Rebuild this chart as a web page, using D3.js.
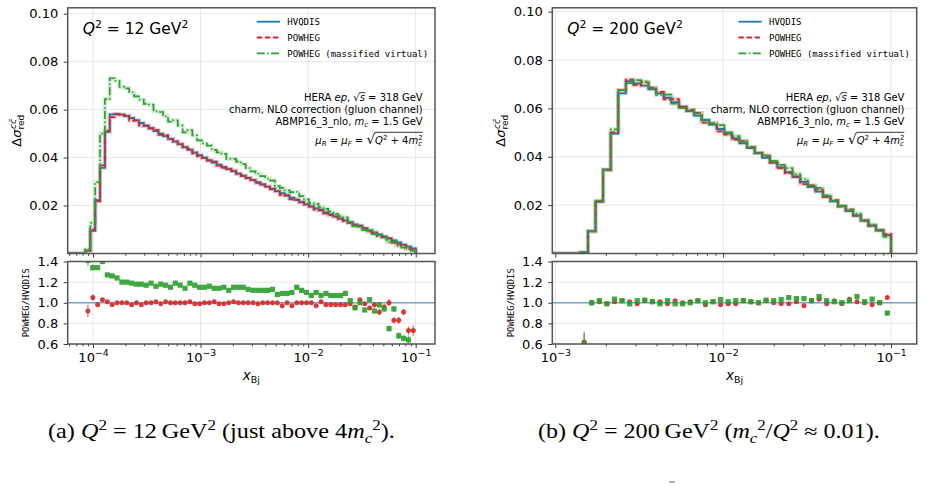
<!DOCTYPE html>
<html>
<head>
<meta charset="utf-8">
<script src="https://cdnjs.cloudflare.com/ajax/libs/d3/7.8.5/d3.min.js"></script>
<style>
body { margin: 0; background: #fff; }
svg { display: block; font-family: "DejaVu Sans", sans-serif; }
</style>
</head>
<body>
<svg id="chart" width="927" height="487"></svg>
<script>
// histogram bins, uniform in log10(x_Bj)
var binLo = -4.0697, binStep = 0.04515;

// Q^2 = 12 GeV^2, bins 0..67
var hvqdisLow = [0.0012, 0.0095, 0.0222, 0.0357, 0.0507, 0.0580, 0.0581, 0.0579, 0.0574, 0.0565,
  0.0555, 0.0544, 0.0533, 0.0522, 0.0511, 0.0500, 0.0489, 0.0478, 0.0467, 0.0456,
  0.0443, 0.0432, 0.0421, 0.0410, 0.0399, 0.0388, 0.0379, 0.0370, 0.0361, 0.0352,
  0.0343, 0.0333, 0.0324, 0.0315, 0.0306, 0.0297, 0.0288, 0.0279, 0.0269, 0.0260,
  0.0251, 0.0242, 0.0233, 0.0224, 0.0214, 0.0205, 0.0196, 0.0188, 0.0180, 0.0171,
  0.0163, 0.0155, 0.0146, 0.0138, 0.0129, 0.0121, 0.0113, 0.0105, 0.0096, 0.0088,
  0.0079, 0.0071, 0.0063, 0.0054, 0.0046, 0.0037, 0.0029, 0.0021];
var ratioPowhegLow = [0.92, 1.05, 0.98, 1.03, 1.01, 0.98, 1.00, 1.00, 1.00, 0.98,
  1.00, 0.98, 1.00, 1.00, 1.01, 0.99, 1.01, 1.00, 1.00, 1.00,
  1.00, 1.01, 0.99, 0.99, 1.00, 1.00, 1.01, 0.99, 0.99, 1.00,
  1.01, 1.00, 1.00, 1.00, 1.00, 0.99, 1.00, 1.00, 1.00, 1.00,
  0.97, 1.00, 0.97, 1.00, 1.00, 1.00, 1.00, 0.97, 1.01, 0.98,
  0.98, 0.98, 0.98, 0.98, 0.99, 0.96, 1.03, 0.99, 0.95, 0.98,
  0.91, 0.96, 1.00, 0.83, 0.83, 0.91, 0.73, 0.73];
var errPowhegLow = [0.06, 0.03, 0.015, 0.012, 0.01, 0.008, 0.006, 0.006, 0.006, 0.006,
  0.006, 0.006, 0.006, 0.006, 0.006, 0.006, 0.006, 0.006, 0.006, 0.006,
  0.006, 0.006, 0.006, 0.006, 0.006, 0.006, 0.006, 0.006, 0.006, 0.006,
  0.006, 0.006, 0.006, 0.006, 0.006, 0.006, 0.006, 0.006, 0.006, 0.006,
  0.008, 0.008, 0.008, 0.008, 0.008, 0.008, 0.008, 0.008, 0.01, 0.01,
  0.01, 0.01, 0.01, 0.012, 0.015, 0.015, 0.02, 0.02, 0.02, 0.025,
  0.03, 0.03, 0.035, 0.03, 0.035, 0.03, 0.04, 0.05];
var ratioMassLow = [1.41, 1.34, 1.34, 1.40, 1.27, 1.26, 1.24, 1.20, 1.20, 1.19,
  1.18, 1.18, 1.17, 1.19, 1.16, 1.18, 1.17, 1.15, 1.19, 1.17,
  1.14, 1.19, 1.17, 1.15, 1.15, 1.16, 1.14, 1.14, 1.15, 1.12,
  1.15, 1.15, 1.15, 1.13, 1.12, 1.12, 1.12, 1.12, 1.13, 1.08,
  1.09, 1.09, 1.10, 1.15, 1.12, 1.10, 1.07, 1.10, 1.07, 1.09,
  1.07, 1.07, 1.07, 1.09, 1.02, 0.95, 1.00, 0.93, 1.03, 0.92,
  0.98, 0.94, 0.75, 0.94, 0.68, 0.655, 0.64, 0.55];
var errMassLow = [0.05, 0.03, 0.02, 0.015, 0.01, 0.008, 0.008, 0.006, 0.006, 0.006,
  0.006, 0.006, 0.006, 0.006, 0.006, 0.006, 0.006, 0.006, 0.006, 0.006,
  0.006, 0.006, 0.006, 0.006, 0.006, 0.006, 0.006, 0.006, 0.006, 0.006,
  0.006, 0.006, 0.006, 0.006, 0.006, 0.006, 0.006, 0.006, 0.006, 0.006,
  0.008, 0.008, 0.008, 0.008, 0.008, 0.008, 0.008, 0.008, 0.01, 0.01,
  0.01, 0.01, 0.01, 0.012, 0.015, 0.015, 0.02, 0.02, 0.02, 0.025,
  0.03, 0.03, 0.03, 0.03, 0.035, 0.03, 0.04, 0.05];

// Q^2 = 200 GeV^2, bins 27..67
var firstBinHigh = 27;
var hvqdisHigh = [0.0005, 0.0092, 0.0214, 0.0348, 0.0496, 0.0662, 0.0712, 0.0703, 0.0694, 0.0679,
  0.0662, 0.0644, 0.0626, 0.0607, 0.0589, 0.0570, 0.0552, 0.0533, 0.0515, 0.0496,
  0.0476, 0.0456, 0.0436, 0.0416, 0.0396, 0.0376, 0.0356, 0.0336, 0.0316, 0.0296,
  0.0276, 0.0256, 0.0236, 0.0216, 0.0196, 0.0176, 0.0156, 0.0136, 0.0116, 0.0096,
  0.0076];
var ratioPowhegHigh = [0.62, 1.00, 1.01, 0.99, 1.01, 1.02, 1.01, 0.99, 1.02, 1.01,
  1.01, 0.99, 1.02, 1.00, 1.01, 1.02, 0.98, 1.01, 0.98, 0.99,
  0.99, 1.02, 1.01, 1.00, 1.02, 1.00, 0.99, 0.99, 1.01, 0.97,
  1.02, 1.035, 0.99, 1.02, 0.99, 1.035, 1.01, 1.00, 0.98, 1.00,
  1.05];
var errPowhegHigh = [0.1, 0.02, 0.01, 0.008, 0.006, 0.006, 0.006, 0.006, 0.006, 0.006,
  0.006, 0.006, 0.006, 0.006, 0.006, 0.006, 0.006, 0.006, 0.006, 0.006,
  0.006, 0.006, 0.006, 0.006, 0.006, 0.006, 0.006, 0.006, 0.006, 0.006,
  0.008, 0.008, 0.008, 0.008, 0.008, 0.01, 0.01, 0.01, 0.012, 0.012,
  0.015];
var ratioMassHigh = [0.60, 1.00, 1.02, 0.99, 1.035, 1.02, 0.99, 1.02, 1.025, 1.01,
  0.99, 1.02, 0.99, 0.99, 1.00, 1.02, 1.00, 1.01, 1.03, 1.01,
  1.02, 1.02, 1.01, 1.00, 1.025, 1.02, 1.03, 1.05, 1.04, 1.04,
  1.02, 1.06, 1.02, 1.01, 1.00, 1.02, 1.06, 1.01, 1.035, 1.00,
  0.90];
var errMassHigh = [0.1, 0.03, 0.012, 0.008, 0.006, 0.006, 0.006, 0.006, 0.006, 0.006,
  0.006, 0.006, 0.006, 0.006, 0.006, 0.006, 0.006, 0.006, 0.006, 0.006,
  0.006, 0.006, 0.006, 0.006, 0.006, 0.006, 0.006, 0.006, 0.006, 0.006,
  0.008, 0.008, 0.008, 0.008, 0.008, 0.01, 0.012, 0.01, 0.012, 0.012,
  0.02];

var yTicksTop = [0.02, 0.04, 0.06, 0.08, 0.10];
var yTicksRatio = [0.6, 0.8, 1.0, 1.2, 1.4];
var xTickExpLow = [-4, -3, -2, -1];
var xTickExpHigh = [-3, -2, -1];
var seriesNames = ["HVQDIS", "POWHEG", "POWHEG (massified virtual)"];
var seriesColors = ["#1f77b4", "#d62728", "#2ca02c"];
var seriesDash = [null, "5.5,2.6", "8,2.4,1.5,2.4"];
var annotLines = [
  [["HERA "], ["ep", "i"], [", "], ["\u221A", "", 0, "rad"], ["s", "i", 0, "radin"], [" = 318 GeV"]],
  [["charm, NLO correction (gluon channel)"]],
  [["ABMP16_3_nlo, "], ["m", "i"], ["c", "isub"], [" = 1.5 GeV"]]
];

var topY0 = 7.8, topY1 = 253.5, ratY0 = 261.5, ratY1 = 344;
var svg = d3.select("#chart");

// text with sub/superscripts: parts are [string, kind, dx]
var richText = function(g, x, y, size, parts, anchor, family){
  var t = g.append("text").attr("x", x).attr("y", y)
    .attr("font-size", size)
    .attr("text-anchor", anchor || "start")
    .attr("fill", "#000");
  if (family) t.attr("font-family", family);
  var shift = 0;
  parts.forEach(function(p){
    var k = p[1] || "";
    var target = 0;
    if (k.indexOf("sub") >= 0) target = 0.24 * size;
    if (k.indexOf("sup") >= 0) target = -0.38 * size;
    var ts = t.append("tspan").text(p[0]).attr("dy", target - shift);
    shift = target;
    if (k.charAt(0) === "i") ts.attr("font-style", "italic");
    if (target !== 0) ts.attr("font-size", size * 0.7);
    if (p[2]) ts.attr("dx", p[2]);
  });
  return t;
};

// overline over a radicand, chars [from, to) of a text node
var radicalBar = function(g, t, from, to, yTop){
  var n = t.node();
  var a = n.getEndPositionOfChar(from - 1).x;
  var b = n.getEndPositionOfChar(to - 1).x;
  g.append("line").attr("x1", a - 0.5).attr("x2", b + 0.5)
    .attr("y1", yTop).attr("y2", yTop)
    .attr("stroke", "#000").attr("stroke-width", 0.8);
};

var edge = function(k){ return Math.pow(10, binLo + k * binStep); };
var center = function(k){ return Math.pow(10, binLo + (k + 0.5) * binStep); };

var drawPanel = function(p){
  var g = svg.append("g");
  var x = d3.scaleLog().domain([Math.pow(10, p.lo), Math.pow(10, p.hi)]).range([p.x0, p.x1]);
  var y = d3.scaleLinear().domain([0, p.yMax]).range([topY1, topY0]);
  var yr = d3.scaleLinear().domain([0.6, 1.4]).range([ratY1, ratY0]);

  var majors = p.xExp.map(function(e){ return Math.pow(10, e); });
  var minors = [];
  for (var d = Math.floor(p.lo); d <= Math.ceil(p.hi); d++) {
    for (var m = 2; m <= 9; m++) {
      var v = m * Math.pow(10, d);
      if (Math.log10(v) > p.lo && Math.log10(v) < p.hi) minors.push(v);
    }
  }

  // grid
  [[topY0, topY1], [ratY0, ratY1]].forEach(function(r){
    g.selectAll(null).data(majors).enter().append("line")
      .attr("x1", function(v){ return x(v); }).attr("x2", function(v){ return x(v); })
      .attr("y1", r[0]).attr("y2", r[1])
      .attr("stroke", "#e3e3e3").attr("stroke-width", 0.9);
  });
  g.selectAll(null).data(yTicksTop).enter().append("line")
    .attr("x1", p.x0).attr("x2", p.x1)
    .attr("y1", function(v){ return y(v); }).attr("y2", function(v){ return y(v); })
    .attr("stroke", "#e3e3e3").attr("stroke-width", 0.9);
  g.selectAll(null).data(yTicksRatio).enter().append("line")
    .attr("x1", p.x0).attr("x2", p.x1)
    .attr("y1", function(v){ return yr(v); }).attr("y2", function(v){ return yr(v); })
    .attr("stroke", "#e3e3e3").attr("stroke-width", 0.9);

  // top panel histograms (POWHEG curves = HVQDIS x ratio read in the lower panel)
  var n = p.hvq.length;
  var series = [
    p.hvq,
    p.hvq.map(function(v, i){ return v * p.rP[i]; }),
    p.hvq.map(function(v, i){ return v * p.rM[i]; })
  ];
  var clipTop = "clipTop" + p.id, clipRat = "clipRat" + p.id;
  var defs = svg.append("defs");
  defs.append("clipPath").attr("id", clipTop).append("rect")
    .attr("x", p.x0).attr("y", topY0).attr("width", p.x1 - p.x0).attr("height", topY1 - topY0);
  defs.append("clipPath").attr("id", clipRat).append("rect")
    .attr("x", p.x0).attr("y", ratY0).attr("width", p.x1 - p.x0).attr("height", ratY1 - ratY0);

  var line = d3.line()
    .x(function(d){ return x(d[0]); })
    .y(function(d){ return y(d[1]); })
    .curve(d3.curveStepAfter);
  var hg = g.append("g").attr("clip-path", "url(#" + clipTop + ")");
  series.forEach(function(vals, s){
    var pts = [[Math.pow(10, p.lo), 0]];
    vals.forEach(function(v, i){ pts.push([edge(p.first + i), v]); });
    pts.push([edge(p.first + n), vals[n - 1]]);
    pts.push([edge(p.first + n), 0]);
    hg.append("path").attr("d", line(pts))
      .attr("fill", "none").attr("stroke", seriesColors[s])
      .attr("stroke-width", 4).attr("stroke-opacity", 0.2);
    hg.append("path").attr("d", line(pts))
      .attr("fill", "none").attr("stroke", seriesColors[s])
      .attr("stroke-width", s === 0 ? 1.9 : 1.7)
      .attr("stroke-dasharray", seriesDash[s]);
  });

  // ratio panel
  var rg = g.append("g").attr("clip-path", "url(#" + clipRat + ")");
  rg.append("line").attr("x1", p.x0).attr("x2", p.x1)
    .attr("y1", yr(1)).attr("y2", yr(1))
    .attr("stroke", "#1f77b4").attr("stroke-opacity", 0.6).attr("stroke-width", 1.6);

  var ratios = [[p.rP, p.eP, 1], [p.rM, p.eM, 2]];
  ratios.forEach(function(r){
    var col = seriesColors[r[2]];
    var idx = d3.range(n);
    rg.selectAll(null).data(idx).enter().append("line")
      .attr("x1", function(i){ return x(center(p.first + i)); })
      .attr("x2", function(i){ return x(center(p.first + i)); })
      .attr("y1", function(i){ return yr(r[0][i] - r[1][i]); })
      .attr("y2", function(i){ return yr(r[0][i] + r[1][i]); })
      .attr("stroke", col).attr("stroke-opacity", 0.7).attr("stroke-width", 1.2);
    if (r[2] === 1) {
      rg.selectAll(null).data(idx).enter().append("circle")
        .attr("cx", function(i){ return x(center(p.first + i)); })
        .attr("cy", function(i){ return yr(r[0][i]); })
        .attr("r", 2.5).attr("fill", col).attr("fill-opacity", 0.9);
    } else {
      rg.selectAll(null).data(idx).enter().append("rect")
        .attr("x", function(i){ return x(center(p.first + i)) - 2.6; })
        .attr("y", function(i){ return yr(r[0][i]) - 2.6; })
        .attr("width", 5.2).attr("height", 5.2)
        .attr("fill", col).attr("fill-opacity", 0.9);
    }
  });

  // axes
  var styleAxis = function(a){
    a.select(".domain").remove();
    a.selectAll("line").attr("stroke", "#222").attr("stroke-width", 0.9);
    a.selectAll("text").attr("font-size", 13).attr("fill", "#000")
      .attr("font-family", "DejaVu Sans");
  };
  var axTopMaj = g.append("g").attr("transform", "translate(0," + topY1 + ")")
    .call(d3.axisBottom(x).tickValues(majors).tickSize(4).tickFormat(""));
  styleAxis(axTopMaj);
  var axTopMin = g.append("g").attr("transform", "translate(0," + topY1 + ")")
    .call(d3.axisBottom(x).tickValues(minors).tickSize(2.3).tickFormat(""));
  styleAxis(axTopMin);
  var axRatMaj = g.append("g").attr("transform", "translate(0," + ratY1 + ")")
    .call(d3.axisBottom(x).tickValues(majors).tickSize(4).tickPadding(4.5).tickFormat(""));
  styleAxis(axRatMaj);
  axRatMaj.selectAll("text").each(function(v, i){
    var t = d3.select(this);
    t.append("tspan").text("10");
    t.append("tspan").text("\u2212" + (-p.xExp[i])).attr("dy", -5.5).attr("font-size", 9.3);
  });
  var axRatMin = g.append("g").attr("transform", "translate(0," + ratY1 + ")")
    .call(d3.axisBottom(x).tickValues(minors).tickSize(2.3).tickFormat(""));
  styleAxis(axRatMin);
  var axY = g.append("g").attr("transform", "translate(" + p.x0 + ",0)")
    .call(d3.axisLeft(y).tickValues(yTicksTop).tickSize(4).tickPadding(5.5)
      .tickFormat(d3.format(".2f")));
  styleAxis(axY);
  var axYR = g.append("g").attr("transform", "translate(" + p.x0 + ",0)")
    .call(d3.axisLeft(yr).tickValues(yTicksRatio).tickSize(4).tickPadding(5.5)
      .tickFormat(d3.format(".1f")));
  styleAxis(axYR);

  // frames
  [[topY0, topY1], [ratY0, ratY1]].forEach(function(r){
    g.append("rect").attr("x", p.x0).attr("y", r[0])
      .attr("width", p.x1 - p.x0).attr("height", r[1] - r[0])
      .attr("fill", "none").attr("stroke", "#555").attr("stroke-width", 1.5);
  });

  // legend
  var lx = p.x1 - 178.3;
  seriesNames.forEach(function(name, s){
    var ly = 21.7 + s * 15.8;
    g.append("line").attr("x1", lx).attr("x2", lx + 23.3).attr("y1", ly).attr("y2", ly)
      .attr("stroke", seriesColors[s]).attr("stroke-width", 1.8)
      .attr("stroke-dasharray", seriesDash[s]);
    g.append("text").attr("x", lx + 30.6).attr("y", ly + 3.3)
      .attr("font-family", "DejaVu Sans Mono").attr("font-size", 9)
      .attr("fill", "#000").text(name);
  });

  // Q^2 label
  richText(g, p.x0 + 15, 33.5, 15.5,
    [["Q", "i"], ["2", "sup"], [" = " + p.q2 + " GeV"], ["2", "sup"]]);

  // annotation
  var ax = p.x1 - 12.3;
  annotLines.forEach(function(parts, li){
    var t = richText(g, ax, 101 + li * 11.8, 10, parts, "end");
    if (li === 0) {
      var s = parts.map(function(q){ return q[0]; }).join("");
      var k = s.indexOf("\u221A");
      radicalBar(g, t, k + 1, k + 2, 101 - 8.3);
    }
  });
  var t4 = richText(g, ax, 144, 10,
    [["\u03BC", "i"], ["R", "isub"], [" = "], ["\u03BC", "i"], ["F", "isub"], [" = "],
     ["\u221A", ""], ["Q", "i"], ["2", "sup"], [" + 4"], ["m", "i"], ["2", "sup"], ["c", "isub", -4.5]], "end");
  t4.selectAll("tspan").filter(function(){ return this.textContent === "\u221A"; })
    .attr("font-size", 13.5);
  var s4 = "\u03BCR = \u03BCF = \u221A";
  radicalBar(g, t4, s4.length, s4.length + "Q2 + 4m2c".length, 132.3);

  // axis labels
  var yl = g.append("g").attr("transform", "translate(" + p.ylabX + "," + ((topY0 + topY1) / 2) + ") rotate(-90)");
  richText(yl, 0, 0, 13,
    [["\u0394"], ["\u03C3", "i"], ["red", "sub"], ["cc\u0304", "isup", -14.5]], "middle");
  g.append("text")
    .attr("transform", "translate(" + p.rlabX + "," + ((ratY0 + ratY1) / 2) + ") rotate(-90)")
    .attr("text-anchor", "middle").attr("font-family", "DejaVu Sans Mono")
    .attr("font-size", 8.8).attr("fill", "#000").text("POWHEG/HVQDIS");
  richText(g, (p.x0 + p.x1) / 2, 380, 13.5, [["x", "i"], ["Bj", "sub"]], "middle");

  // caption
  var cap = richText(g, p.capX, 438, 20, p.caption, "start", "Liberation Serif");
  var w = cap.node().getComputedTextLength();
  cap.attr("transform", "translate(" + p.capX + ",0) scale(" + (p.capW / w) + ",1) translate(" + (-p.capX) + ",0)");
};

drawPanel({
  id: "L", x0: 67.7, x1: 435, lo: -4.235, hi: -0.8206, yMax: 0.10246, first: 0,
  hvq: hvqdisLow, rP: ratioPowhegLow, eP: errPowhegLow, rM: ratioMassLow, eM: errMassLow,
  xExp: xTickExpLow, q2: "12", ylabX: 21, rlabX: 28.5, capX: 48, capW: 347,
  caption: [["(a) "], ["Q", "i"], ["2", "sup"], [" = 12\u2009GeV"], ["2", "sup"],
    [" (just above 4"], ["m", "i"], ["c", "isub"], ["2", "sup"], [")."]]
});
drawPanel({
  id: "R", x0: 552.3, x1: 916.7, lo: -3.0179, hi: -0.847, yMax: 0.1016, first: firstBinHigh,
  hvq: hvqdisHigh, rP: ratioPowhegHigh, eP: errPowhegHigh, rM: ratioMassHigh, eM: errMassHigh,
  xExp: xTickExpHigh, q2: "200", ylabX: 505, rlabX: 514, capX: 538, capW: 342,
  caption: [["(b) "], ["Q", "i"], ["2", "sup"], [" = 200\u2009GeV"], ["2", "sup"],
    [" ("], ["m", "i"], ["c", "isub"], ["2", "sup"], ["/"], ["Q", "i"], ["2", "sup"],
    [" \u2248 0.01)."]]
});

// cut-off mark at the bottom edge of the page
svg.append("line").attr("x1", 669).attr("x2", 675).attr("y1", 482).attr("y2", 482)
  .attr("stroke", "#666").attr("stroke-width", 1);
</script>
</body>
</html>
